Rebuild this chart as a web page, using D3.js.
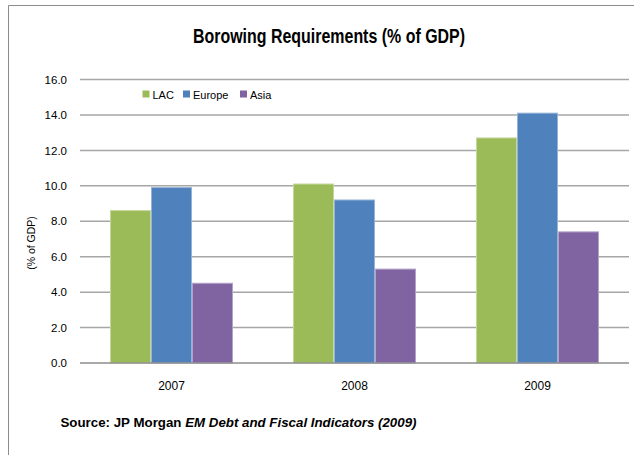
<!DOCTYPE html>
<html><head><meta charset="utf-8">
<script src="https://cdn.jsdelivr.net/npm/d3@7"></script>
<style>body{margin:0;background:#fff;}svg{display:block;font-family:"Liberation Sans",Arial,sans-serif;}</style>
</head><body><svg id="c" width="634" height="455"></svg>
<script>
const years = ["2007","2008","2009"];
const seriesNames = ["LAC","Europe","Asia"];
const lac = [8.6, 10.1, 12.7];
const europe = [9.9, 9.2, 14.1];
const asia = [4.5, 5.3, 7.4];
const yTicks = [0,2,4,6,8,10,12,14,16];
const colors = ["#9BBB59","#4F81BD","#8064A2"];
const strokes = ["#c3d69b","#95b3d7","#b3a2c7"];
const values = [lac, europe, asia];

const svg = d3.select("#c");
// outer border
svg.append("path").attr("d","M8.5,460 V5.5 H640").attr("fill","none").attr("stroke","#8c8c8c").attr("stroke-width",1);

const x0 = d3.scaleBand().domain(years).range([80,629]).paddingInner(0.328).paddingOuter(0.164);
const x1 = d3.scaleBand().domain(seriesNames).range([0, x0.bandwidth()]);
const y = d3.scaleLinear().domain([0,16]).range([363,79.5]);

// grid
svg.append("g").selectAll("line").data(yTicks.filter(d=>d>0)).join("line")
  .attr("x1",80).attr("x2",629).attr("y1",d=>y(d)).attr("y2",d=>y(d))
  .attr("stroke","#a6a6a6").attr("stroke-width",1.5);

// y axis labels
const ya = svg.append("g").attr("transform","translate(80,0)")
  .call(d3.axisLeft(y).tickValues(yTicks).tickFormat(d3.format(".1f")).tickSize(0).tickPadding(13));
ya.select(".domain").remove();
ya.selectAll("text").attr("font-size",11.5).attr("fill","#000").attr("font-family","inherit");

// bars
const g = svg.append("g");
years.forEach((yr,i)=>{
  seriesNames.forEach((s,j)=>{
    g.append("rect")
      .attr("x", x0(yr)+x1(s)+0.5).attr("y", y(values[j][i]))
      .attr("width", x1.bandwidth()-1).attr("height", y(0)-y(values[j][i]))
      .attr("fill", colors[j]).attr("stroke", strokes[j]).attr("stroke-width",1);
  });
});

// baseline
svg.append("line").attr("x1",80).attr("x2",629).attr("y1",y(0)).attr("y2",y(0))
  .attr("stroke","#8c8c8c").attr("stroke-width",1.5);

// x axis labels
const xa = svg.append("g").attr("transform",`translate(0,${y(0)})`)
  .call(d3.axisBottom(x0).tickSize(0).tickPadding(18));
xa.select(".domain").remove();
xa.selectAll("text").attr("font-size",12).attr("fill","#000").attr("font-family","inherit");

// title
svg.append("text").attr("x",193).attr("y",43)
  .attr("font-size",20).attr("font-weight","bold")
  .attr("textLength",272).attr("lengthAdjust","spacingAndGlyphs")
  .text("Borowing Requirements (% of GDP)");

// y title
svg.append("text").attr("transform","translate(35,243) rotate(-90)").attr("text-anchor","middle")
  .attr("font-size",10.5).text("(% of GDP)");

// legend
const legX = [142.5,183,240];
seriesNames.forEach((s,j)=>{
  svg.append("rect").attr("x",legX[j]).attr("y",90.5).attr("width",7).attr("height",7).attr("fill",colors[j]);
  svg.append("text").attr("x",legX[j]+10).attr("y",98.5).attr("font-size",11).text(s);
});

// source
const src = svg.append("text").attr("x",60.5).attr("y",427).attr("font-size",13.5).attr("font-weight","bold")
  .attr("textLength",356).attr("lengthAdjust","spacingAndGlyphs");
src.append("tspan").text("Source: JP Morgan ");
src.append("tspan").attr("font-style","italic").text("EM Debt and Fiscal Indicators (2009)");
</script></body></html>
